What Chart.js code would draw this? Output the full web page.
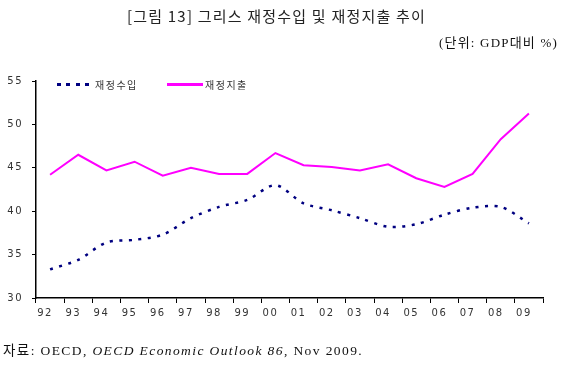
<!DOCTYPE html>
<html>
<head>
<meta charset="utf-8">
<script src="https://cdn.jsdelivr.net/npm/chart.js@4"></script>
<style>
  body { margin: 0; background: #fff; }
  #wrap { position: relative; width: 567px; height: 365px; overflow: hidden; }
  #chart { position: absolute; left: 0; top: 0; }
  .txt { position: absolute; white-space: nowrap; color: #111; }
  #title { left: 0; width: 553px; top: 5px; text-align: center; font: 15px "Noto Sans CJK KR", sans-serif; color: #222; letter-spacing: 1.2px; }
  #unit { right: 9px; top: 32px; font: 13px "Liberation Serif", "Noto Sans CJK KR", serif; letter-spacing: 1.2px; }
  #source { left: 3px; top: 339px; font: 13.5px "Liberation Serif", "Noto Sans CJK KR", serif; letter-spacing: 1.4px; }
  .leg { position: absolute; top: 77px; font: 10px "Noto Sans CJK KR", sans-serif; color: #333; letter-spacing: 1.5px; }
  .sample { position: absolute; height: 3px; }
</style>
</head>
<body>
<div id="wrap">
  <canvas id="chart" width="567" height="365"></canvas>
  <div class="txt" id="title">[그림 13] 그리스 재정수입 및 재정지출 추이</div>
  <div class="txt" id="unit">(단위: GDP대비 %)</div>
  <div class="sample" style="left:57px; top:83px; width:36px; background: repeating-linear-gradient(to right, #000080 0 4px, transparent 4px 9.3px);"></div>
  <div class="leg" style="left:95px;">재정수입</div>
  <div class="sample" style="left:167px; top:83px; width:36px; background:#ff00ff;"></div>
  <div class="leg" style="left:205px;">재정지출</div>
  <div class="txt" id="source">자료: OECD, <i>OECD Economic Outlook 86</i>, Nov 2009.</div>
</div>
<script>
// years shown on the x axis
const years = ['92', '93', '94', '95', '96', '97', '98', '99', '00', '01', '02', '03', '04', '05', '06', '07', '08', '09'];
// government revenue, % of GDP
const revenue = [33.3, 34.4, 36.4, 36.7, 37.3, 39.2, 40.5, 41.3, 43.0, 40.9, 40.1, 39.2, 38.2, 38.5, 39.6, 40.4, 40.5, 38.6];
// government expenditure, % of GDP
const expenditure = [44.2, 46.5, 44.7, 45.7, 44.1, 45.0, 44.3, 44.3, 46.7, 45.3, 45.1, 44.7, 45.4, 43.8, 42.8, 44.3, 48.3, 51.25];
const yTicks = [30, 35, 40, 45, 50, 55];

const tickFont = { family: 'DejaVu Sans', size: 10 };

// the original tick labels are drawn with wide letter spacing
const spacedText = {
    id: 'spacedText',
    beforeDraw(chart) { chart.ctx.letterSpacing = '1.5px'; }
};

new Chart(document.getElementById('chart'), {
    type: 'line',
    data: {
        labels: years,
        datasets: [
            {
                label: '재정수입',
                data: revenue,
                borderColor: '#000080',
                borderWidth: 2.5,
                borderDash: [3, 6.5],
                borderCapStyle: 'butt',
                tension: 0.3,
                pointRadius: 0,
                fill: false,
            },
            {
                label: '재정지출',
                data: expenditure,
                borderColor: '#ff00ff',
                borderWidth: 2,
                tension: 0,
                pointRadius: 0,
                fill: false,
            },
        ]
    },
    options: {
        responsive: false,
        animation: false,
        layout: { padding: { left: 0, top: 81, right: 24, bottom: 37 } },
        plugins: {
            legend: { display: false },
            tooltip: { enabled: false },
        },
        scales: {
            x: {
                offset: true,
                grid: { offset: true, drawOnChartArea: false, drawTicks: true, tickLength: 5, color: '#000' },
                border: { color: '#000', width: 1.5 },
                ticks: { color: '#333', font: tickFont, padding: 4, maxRotation: 0, autoSkip: false, labelOffset: -5 },
                afterFit: (scale) => { scale.height = 30; },
            },
            y: {
                min: 30,
                max: 55,
                afterBuildTicks: (scale) => { scale.ticks = yTicks.map(v => ({ value: v })); },
                grid: { drawOnChartArea: false, drawTicks: true, tickLength: 4, color: '#000' },
                border: { color: '#000', width: 1.5 },
                ticks: { color: '#333', font: tickFont, padding: 9 },
                afterFit: (scale) => { scale.width = 36; },
            }
        }
    },
    plugins: [spacedText]
});
</script>
</body>
</html>
